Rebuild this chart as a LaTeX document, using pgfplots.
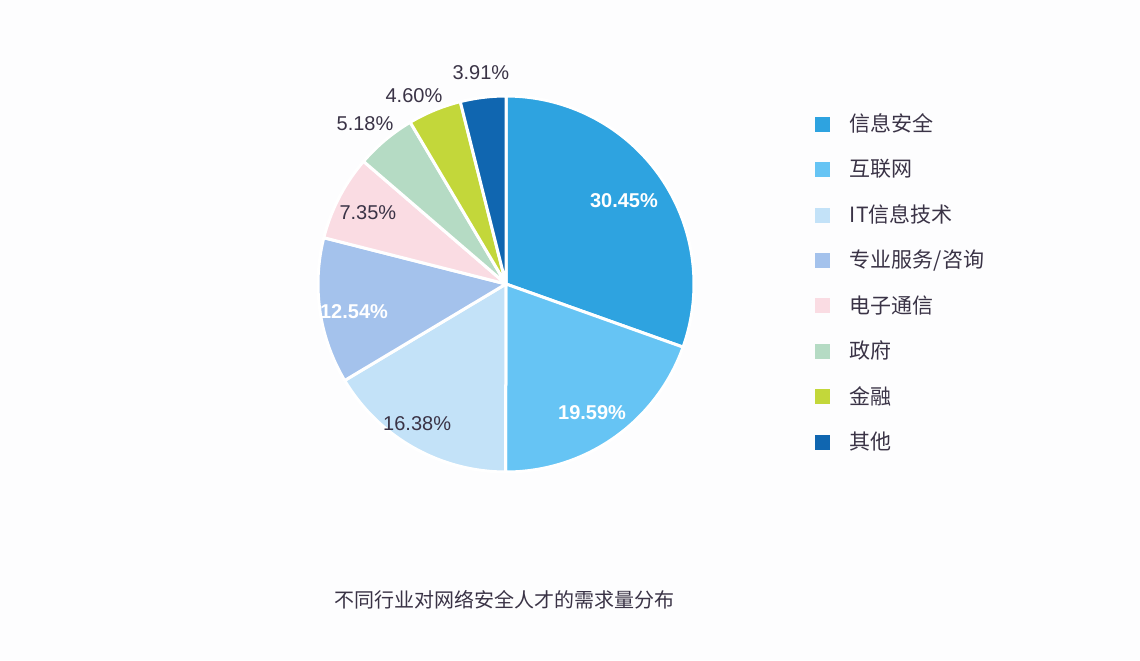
\documentclass[border=0pt]{standalone}
\usepackage{fontspec}
\setmainfont{Liberation Sans}
\newfontfamily\cjk{Noto Sans CJK SC}
\usepackage{pgfplots}
\pgfplotsset{compat=1.18}
\usepgfplotslibrary{polar}
\definecolor{c1}{HTML}{2EA3E0}
\definecolor{c2}{HTML}{66C4F4}
\definecolor{c3}{HTML}{C3E2F8}
\definecolor{c4}{HTML}{A4C2EC}
\definecolor{c5}{HTML}{FADCE3}
\definecolor{c6}{HTML}{B5DBC4}
\definecolor{c7}{HTML}{C3D73A}
\definecolor{c8}{HTML}{1066B0}
\definecolor{txt}{HTML}{3A3346}
\definecolor{bg}{HTML}{FDFDFE}
\begin{document}
\begin{tikzpicture}
\fill[bg] (0,0) rectangle (570pt,330pt);
\begin{polaraxis}[
  at={(253pt,188pt)}, anchor=center,
  width=188pt, height=188pt, scale only axis,
  hide axis, ymin=0, ymax=1, clip=false,
  legend style={at={(axis description cs:1.322,0.986)}, anchor=north west,
    draw=none, fill=none, inner sep=0pt, row sep=0pt,
    nodes={inner sep=0pt, minimum height=22.7pt, anchor=west,
      font=\cjk\fontsize{10.5}{12}\selectfont, text=txt}},
  legend image code/.code={\fill[#1,draw=none] (0pt,-3.75pt) rectangle (7.5pt,3.75pt); \path (16.5pt,0pt);},
  every axis plot/.append style={draw=white, line width=1.5pt, line join=round, samples=90},
]
% percentages: 30.45 19.59 16.38 12.54 7.35 5.18 4.60 3.91 (clockwise from 12 o'clock)
\addplot[fill=c1, domain=-19.62:90] {1} -- (axis cs:0,0) -- cycle;
\addlegendentry{信息安全}
\addplot[fill=c2, domain=-90.144:-19.62] {1} -- (axis cs:0,0) -- cycle;
\addlegendentry{互联网}
\addplot[fill=c3, domain=-149.112:-90.144] {1} -- (axis cs:0,0) -- cycle;
\addlegendentry{IT信息技术}
\addplot[fill=c4, domain=-194.256:-149.112] {1} -- (axis cs:0,0) -- cycle;
\addlegendentry{专业服务/咨询}
\addplot[fill=c5, domain=-220.716:-194.256] {1} -- (axis cs:0,0) -- cycle;
\addlegendentry{电子通信}
\addplot[fill=c6, domain=-239.364:-220.716] {1} -- (axis cs:0,0) -- cycle;
\addlegendentry{政府}
\addplot[fill=c7, domain=-255.924:-239.364] {1} -- (axis cs:0,0) -- cycle;
\addlegendentry{金融}
\addplot[fill=c8, domain=-270:-255.924] {1} -- (axis cs:0,0) -- cycle;
\addlegendentry{其他}

\node[text=white, font=\bfseries\fontsize{10}{12}\selectfont] at (axis cs:35.4,0.77) {30.45\%};
\node[text=white, font=\bfseries\fontsize{10}{12}\selectfont] at (axis cs:-56.3,0.825) {19.59\%};
\node[text=txt, font=\fontsize{10}{12}\selectfont] at (axis cs:-122.4,0.882) {16.38\%};
\node[text=white, font=\bfseries\fontsize{10}{12}\selectfont] at (axis cs:190.4,0.822) {12.54\%};
\node[text=txt, font=\fontsize{10}{12}\selectfont] at (axis cs:152.8,0.826) {7.35\%};
\node[text=txt, font=\fontsize{10}{12}\selectfont] at (axis cs:131.4,1.134) {5.18\%};
\node[text=txt, font=\fontsize{10}{12}\selectfont] at (axis cs:116.1,1.113) {4.60\%};
\node[text=txt, font=\fontsize{10}{12}\selectfont] at (axis cs:96.8,1.13) {3.91\%};
\end{polaraxis}
\node[text=txt, font=\cjk\fontsize{10}{12}\selectfont] at (252pt,30pt) {不同行业对网络安全人才的需求量分布};
\end{tikzpicture}
\end{document}
